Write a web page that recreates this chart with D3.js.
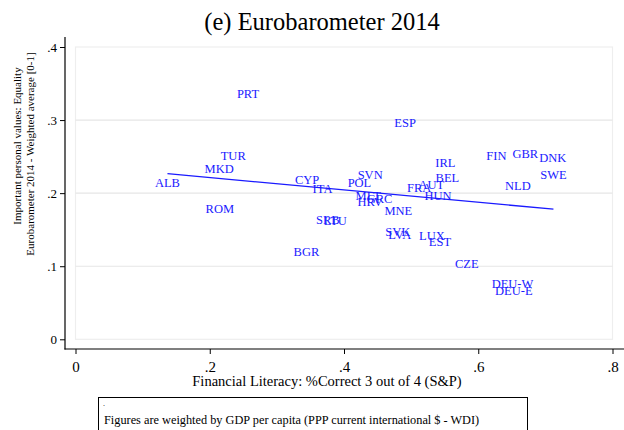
<!DOCTYPE html>
<html>
<head>
<meta charset="utf-8">
<script src="https://cdn.jsdelivr.net/npm/d3@7"></script>
<style>
    body { margin: 0; background: #fff; }
</style>
</head>
<body>
<div class="output"></div>
<script>
// Данные
let countries = ["PRT", "TUR", "MKD", "ALB", "CYP", "ITA", "ESP", "FIN", "GBR", "DNK",
    "IRL", "SWE", "BEL", "SVN", "POL", "NLD", "AUT", "FRA", "HUN", "MLT",
    "GRC", "HRV", "MNE", "SRB", "LTU", "SVK", "LVA", "LUX", "EST", "CZE",
    "DEU-W", "DEU-E", "ROM", "BGR"];
let literacy = [0.257, 0.235, 0.214, 0.137, 0.345, 0.368, 0.491, 0.627, 0.670, 0.711,
    0.551, 0.712, 0.554, 0.439, 0.423, 0.659, 0.530, 0.512, 0.540, 0.436,
    0.453, 0.439, 0.481, 0.376, 0.387, 0.480, 0.483, 0.531, 0.543, 0.583,
    0.651, 0.653, 0.215, 0.344];
let equality = [0.336, 0.252, 0.233, 0.214, 0.218, 0.206, 0.296, 0.252, 0.254, 0.248,
    0.242, 0.226, 0.221, 0.226, 0.215, 0.210, 0.212, 0.208, 0.197, 0.197,
    0.193, 0.188, 0.176, 0.164, 0.162, 0.148, 0.143, 0.142, 0.133, 0.103,
    0.076, 0.066, 0.179, 0.120];

// Линейный тренд (взвешенный)
let fitIntercept = 0.2383;
let fitSlope = -0.0846;

let xTicks = [0, 0.2, 0.4, 0.6, 0.8];
let xTickLabels = ["0", ".2", ".4", ".6", ".8"];
let yTicks = [0, 0.1, 0.2, 0.3, 0.4];
let yTickLabels = ["0", ".1", ".2", ".3", ".4"];

let title = "(e) Eurobarometer 2014";
let xTitle = "Financial Literacy: %Correct 3 out of 4 (S&P)";
let yTitle = ["Important personal values: Equality",
    "Eurobarometer 2014 - Weighted average [0-1]"];
let note = "Figures are weighted by GDP per capita (PPP current international $ - WDI)";

let width = 624, height = 430;
let blue = "#1a1aff";
let serif = "'Liberation Serif', 'DejaVu Serif', serif";

let svg = d3.select(".output")
    .append("svg")
    .attr("width", width)
    .attr("height", height)
    .style("font-family", serif);

let x = d3.scaleLinear().domain([0, 0.8]).range([75.5, 612.5]);
let y = d3.scaleLinear().domain([0, 0.4]).range([339.3, 47]);

// Рамка области построения
svg.append("rect")
    .attr("x", x(0)).attr("y", y(0.4))
    .attr("width", x(0.8) - x(0)).attr("height", y(0) - y(0.4))
    .attr("fill", "none").attr("stroke", "#eeeeee").attr("stroke-width", 1.2);

// Сетка
svg.selectAll("grid")
    .data(yTicks.slice(1, -1))
    .enter()
    .append("line")
    .attr("x1", x(0)).attr("x2", x(0.8))
    .attr("y1", (d) => y(d)).attr("y2", (d) => y(d))
    .attr("stroke", "#e6e6e6").attr("stroke-width", 1.2);

// Ось Y
let yAxis = svg.append("g")
    .attr("transform", "translate(65,0)")
    .call(d3.axisLeft(y).tickValues(yTicks)
        .tickFormat((d, i) => yTickLabels[i]).tickSize(5).tickPadding(3));
yAxis.attr("font-family", null).attr("font-size", null);
yAxis.select(".domain").remove();
yAxis.selectAll("text").style("font-size", "13px").style("font-family", serif);

// Ось X
let xAxis = svg.append("g")
    .attr("transform", "translate(0,349)")
    .call(d3.axisBottom(x).tickValues(xTicks)
        .tickFormat((d, i) => xTickLabels[i]).tickSize(5).tickPadding(7));
xAxis.attr("font-family", null).attr("font-size", null);
xAxis.select(".domain").remove();
xAxis.selectAll("text").style("font-size", "15px").style("font-family", serif);

// Линии осей
svg.append("line")
    .attr("x1", 65).attr("x2", 65).attr("y1", 37).attr("y2", 349.5)
    .attr("stroke", "#000").attr("stroke-width", 1.2);
svg.append("line")
    .attr("x1", 64.5).attr("x2", width).attr("y1", 349).attr("y2", 349)
    .attr("stroke", "#000").attr("stroke-width", 1.2);

// Линия тренда
let xr = d3.extent(literacy);
svg.append("line")
    .attr("x1", x(xr[0])).attr("y1", y(fitIntercept + fitSlope * xr[0]))
    .attr("x2", x(xr[1])).attr("y2", y(fitIntercept + fitSlope * xr[1]))
    .attr("stroke", blue).attr("stroke-width", 1.3);

// Подписи стран
svg.selectAll("labels")
    .data(countries)
    .enter()
    .append("text")
    .attr("x", (d, i) => x(literacy[i]))
    .attr("y", (d, i) => y(equality[i]))
    .attr("dy", "0.35em")
    .attr("text-anchor", "middle")
    .style("font-size", "12.5px")
    .style("font-family", serif)
    .style("fill", blue)
    .text((d) => d);

// Заголовки
svg.append("text")
    .attr("x", 322).attr("y", 30)
    .attr("text-anchor", "middle")
    .style("font-size", "24.5px")
    .style("font-family", serif)
    .text(title);

svg.append("text")
    .attr("x", 327).attr("y", 386)
    .attr("text-anchor", "middle")
    .style("font-size", "14.5px")
    .style("font-family", serif)
    .text(xTitle);

svg.selectAll("ytitle")
    .data(yTitle)
    .enter()
    .append("text")
    .attr("transform", (d, i) => "translate(" + (20.5 + i * 13.5) + "," + (146 + i * 8) + ") rotate(-90)")
    .attr("text-anchor", "middle")
    .style("font-size", "11px")
    .style("font-family", serif)
    .text((d) => d);

// Примечание
svg.append("rect")
    .attr("x", 98.5).attr("y", 397.5)
    .attr("width", 429).attr("height", 40)
    .attr("fill", "none").attr("stroke", "#000").attr("stroke-width", 1);
svg.append("text")
    .attr("x", 103).attr("y", 406)
    .style("font-size", "8px")
    .style("font-family", serif)
    .text(".");
svg.append("text")
    .attr("x", 104).attr("y", 424)
    .style("font-size", "12.3px")
    .style("font-family", serif)
    .text(note);
</script>
</body>
</html>
